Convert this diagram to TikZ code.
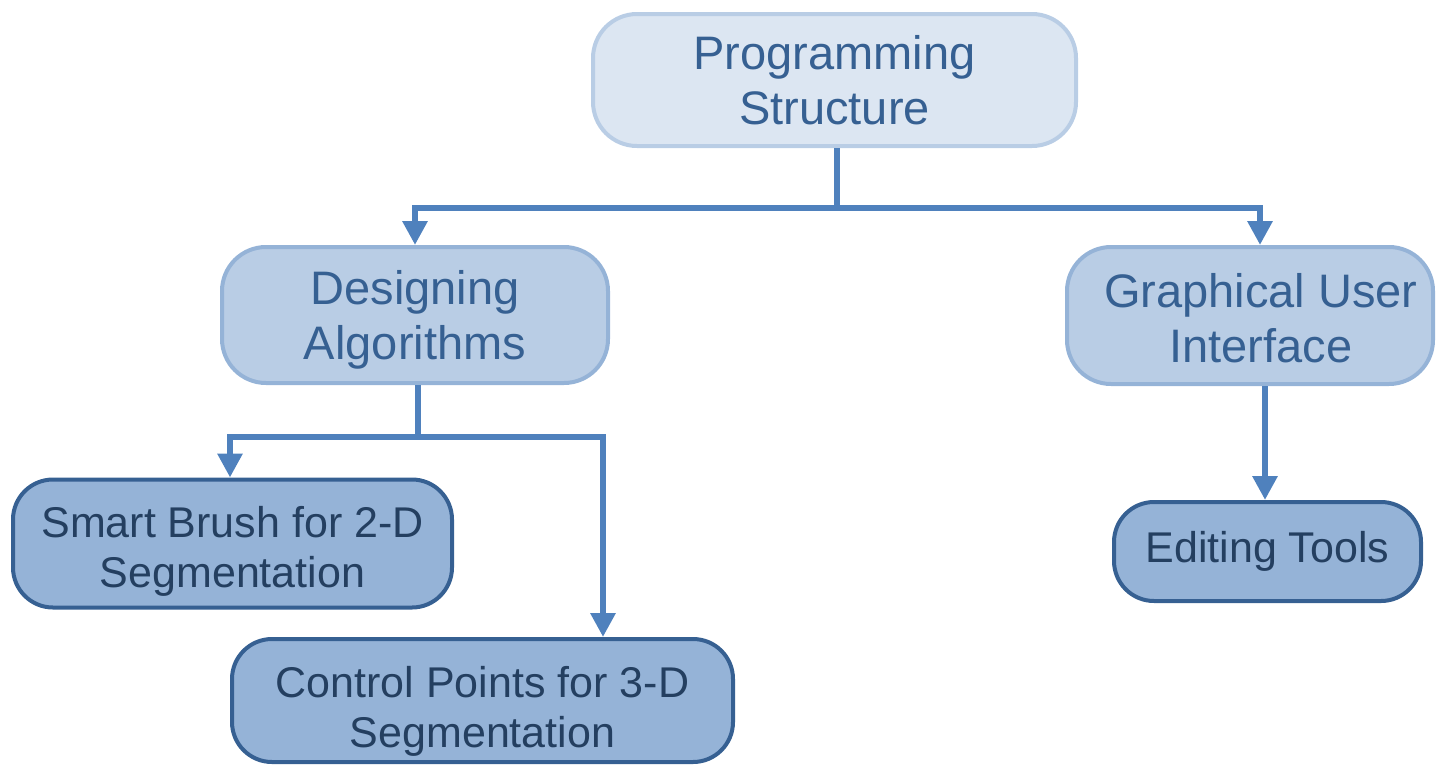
\documentclass[tikz,border=0pt]{standalone}
\usepackage{fontspec}
\setmainfont{Liberation Sans}
\usetikzlibrary{arrows.meta,calc}
\definecolor{topfill}{HTML}{DCE6F2}
\definecolor{topline}{HTML}{B9CDE5}
\definecolor{midfill}{HTML}{B9CDE5}
\definecolor{midline}{HTML}{95B3D7}
\definecolor{lowfill}{HTML}{95B3D7}
\definecolor{lowline}{HTML}{366092}
\definecolor{midtext}{HTML}{366092}
\definecolor{lowtext}{HTML}{243F60}
\definecolor{conncol}{HTML}{4F81BD}
% invisible strut that sets the height of a first text line
\newcommand\firstline[1]{\rule{0pt}{#1}}
\tikzset{
  box/.style={rounded corners=44pt, line width=4pt, inner sep=0pt, align=center},
  topbox/.style={box, fill=topfill, draw=topline, text=midtext,
    font=\fontsize{47}{55}\selectfont},
  midbox/.style={box, fill=midfill, draw=midline, text=midtext,
    font=\fontsize{47}{55}\selectfont},
  lowbox/.style={box, rounded corners=40pt, fill=lowfill, draw=lowline, text=lowtext,
    font=\fontsize{43}{50}\selectfont},
  conn/.style={draw=conncol, line width=6pt},
  arr/.style={conn, -{Triangle[width=24pt,length=24pt]}}
}
\begin{document}
\begin{tikzpicture}[x=1pt,y=-1pt]
\useasboundingbox (0,0) rectangle (1437,766);

% boxes of the hierarchy
\node[topbox, minimum width=483pt, minimum height=132pt] (ps) at (834.5,80)
  {Programming\\Structure};
\node[midbox, minimum width=386pt, minimum height=136pt] (da) at (415,315)
  {\firstline{44pt}Designing\\Algorithms};
\node[midbox, minimum width=366pt, minimum height=137pt] (gui) at (1250,315.5)
  {\hspace*{22pt}\firstline{39pt}Graphical User\\\hspace*{22pt}Interface};
\node[lowbox, minimum width=439pt, minimum height=128pt] (sb) at (232.5,543.5)
  {\firstline{46pt}Smart Brush for 2-D\\Segmentation};
\node[lowbox, minimum width=501pt, minimum height=123pt] (cp) at (482.5,700.5)
  {\firstline{52pt}Control Points for 3-D\\Segmentation};
\node[lowbox, minimum width=307pt, minimum height=99pt] (et) at (1267.5,551.5)
  {Editing Tools};

% junction points of the connectors
\coordinate (j1) at (837,208);
\coordinate (j2) at (418,437);
\coordinate (gin) at (1260,245);
\coordinate (sbin) at (230,478);
\coordinate (cpin) at (603,637);
\coordinate (gout) at (1265,386);

% connectors
\draw[conn] (j1 |- ps.south) -- (j1);
\draw[arr] (j1) -| (da.north);
\draw[arr] (j1) -| (gin |- gui.north);
\draw[conn] (j2 |- da.south) -- (j2);
\draw[arr] (j2) -| (sbin |- sb.north);
\draw[arr] (j2) -| (cpin |- cp.north);
\draw[arr] (gout |- gui.south) -- (gout |- et.north);
\end{tikzpicture}
\end{document}
